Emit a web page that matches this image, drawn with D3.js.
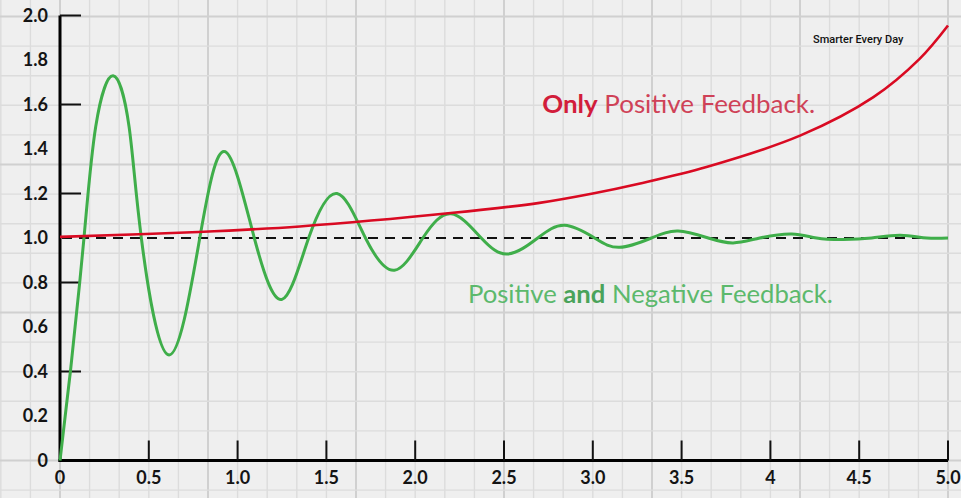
<!DOCTYPE html>
<html>
<head>
<meta charset="utf-8">
<script src="https://cdn.jsdelivr.net/npm/d3@7"></script>
<style>
  html, body { margin: 0; padding: 0; background: #efefef; }
  svg { display: block; }
  .tick-label { font-family: Lato, "Open Sans", sans-serif; font-weight: 700; font-size: 18px; fill: #141414; }
</style>
</head>
<body>
<svg id="chart"></svg>
<script>
/********/
/* data */
/********/

const xLabelValues = [0, 0.5, 1, 1.5, 2, 2.5, 3, 3.5, 4, 4.5, 5];
const xLabels = ["0", "0.5", "1.0", "1.5", "2.0", "2.5", "3.0", "3.5", "4", "4.5", "5.0"];
const xTickValues = [0.5, 1, 1.5, 2, 2.5, 3, 3.5, 4, 4.5, 5];

const yLabelValues = [0, 0.2, 0.4, 0.6, 0.8, 1, 1.2, 1.4, 1.6, 1.8, 2];
const yLabels = ["0", "0.2", "0.4", "0.6", "0.8", "1.0", "1.2", "1.4", "1.6", "1.8", "2.0"];
const yTickValues = [0.4, 0.8, 1.2, 1.6, 2];

const setpoint = 1.0;

// only positive feedback (red)
const positiveX = [0, 0.78, 1.35, 2.2, 2.7, 3.0, 3.26, 3.64, 4.17, 4.58, 4.84, 5];
const positiveY = [1.005, 1.027, 1.052, 1.112, 1.158, 1.2, 1.244, 1.319, 1.461, 1.633, 1.805, 1.955];

// positive and negative feedback (green)
const mixedX = [0, 0.06, 0.135, 0.201, 0.299, 0.389, 0.458, 0.614, 0.787, 0.93, 1.094,
  1.25, 1.40, 1.56, 1.72, 1.883, 2.043, 2.202, 2.372, 2.522, 2.69, 2.841, 3.01, 3.151, 3.33, 3.48, 3.65,
  3.79, 3.94, 4.12, 4.26, 4.41, 4.57, 4.73, 4.88, 5];
const mixedY = [0, 0.41, 1.0, 1.5, 1.729, 1.5, 1.0, 0.474, 1.0, 1.388, 1.0,
  0.724, 1.0, 1.20, 1.0, 0.855, 1.0, 1.109, 1.0, 0.928, 1.0, 1.057, 1.0, 0.958, 1.0, 1.031, 1.0,
  0.978, 1.0, 1.018, 1.0, 0.993, 1.0, 1.012, 1.0, 1.0];

/*********/
/* setup */
/*********/

const width = 961;
const height = 498;

const x = d3.scaleLinear().domain([0, 5]).range([60, 948]);
const y = d3.scaleLinear().domain([0, 2]).range([460.5, 15.5]);

const svg = d3.select("#chart").attr("width", width).attr("height", height);

/********/
/* grid */
/********/

function gridView() {
  const g = svg.append("g");
  g.append("rect").attr("width", width).attr("height", height).attr("fill", "#efefef");

  // graph paper: square cells, 1/6 unit wide, thicker every 5 cells
  const xStep = 1 / 6;
  const yStep = (x(xStep) - x(0)) / (y(0) - y(1));
  const cols = d3.range(-2, 33).map(i => ({ v: i * xStep, major: i % 5 === 0 }));
  const rows = d3.range(-1, 17).map(i => ({ v: i * yStep, major: i % 5 === 0 }));

  g.selectAll(".col")
    .data(cols)
    .enter()
    .append("line")
    .attr("x1", d => x(d.v))
    .attr("x2", d => x(d.v))
    .attr("y1", 0)
    .attr("y2", height)
    .attr("stroke", d => (d.major ? "#d0d0d0" : "#dcdcdc"))
    .attr("stroke-width", d => (d.major ? 2 : 1.4));

  g.selectAll(".row")
    .data(rows)
    .enter()
    .append("line")
    .attr("y1", d => y(d.v))
    .attr("y2", d => y(d.v))
    .attr("x1", 0)
    .attr("x2", width)
    .attr("stroke", d => (d.major ? "#d0d0d0" : "#dcdcdc"))
    .attr("stroke-width", d => (d.major ? 2 : 1.4));
}

/********/
/* axes */
/********/

function axesView() {
  const g = svg.append("g");

  g.append("line")
    .attr("x1", x(0)).attr("x2", x(0))
    .attr("y1", y(0) + 1.5).attr("y2", y(2))
    .attr("stroke", "#000").attr("stroke-width", 3);
  g.append("line")
    .attr("x1", x(0) - 1.5).attr("x2", x(5))
    .attr("y1", y(0)).attr("y2", y(0))
    .attr("stroke", "#000").attr("stroke-width", 3);

  g.selectAll(".ytick")
    .data(yTickValues)
    .enter()
    .append("line")
    .attr("x1", x(0))
    .attr("x2", x(0) + 21)
    .attr("y1", d => y(d))
    .attr("y2", d => y(d))
    .attr("stroke", "#111")
    .attr("stroke-width", 2);

  g.selectAll(".xtick")
    .data(xTickValues)
    .enter()
    .append("line")
    .attr("x1", d => x(d))
    .attr("x2", d => x(d))
    .attr("y1", y(0))
    .attr("y2", y(0) - 20)
    .attr("stroke", "#111")
    .attr("stroke-width", 2);

  g.selectAll(".ylabel")
    .data(yLabelValues)
    .enter()
    .append("text")
    .attr("class", "tick-label")
    .attr("x", x(0) - 12)
    .attr("y", d => y(d))
    .attr("dy", "0.36em")
    .attr("text-anchor", "end")
    .text((d, i) => yLabels[i]);

  g.selectAll(".xlabel")
    .data(xLabelValues)
    .enter()
    .append("text")
    .attr("class", "tick-label")
    .attr("x", d => x(d))
    .attr("y", y(0) + 23)
    .attr("text-anchor", "middle")
    .text((d, i) => xLabels[i]);
}

/*********/
/* lines */
/*********/

function linesView() {
  const g = svg.append("g");
  const line = d3.line().x(d => x(d[0])).y(d => y(d[1]));

  g.append("line")
    .attr("x1", x(0) + 2)
    .attr("x2", x(5))
    .attr("y1", y(setpoint))
    .attr("y2", y(setpoint))
    .attr("stroke", "#111")
    .attr("stroke-width", 2)
    .attr("stroke-dasharray", "10,7");

  g.append("path")
    .datum(d3.zip(mixedX, mixedY))
    .attr("d", line.curve(d3.curveNatural))
    .attr("fill", "none")
    .attr("stroke", "#3fae4a")
    .attr("stroke-width", 3);

  g.append("path")
    .datum(d3.zip(positiveX, positiveY))
    .attr("d", line.curve(d3.curveCatmullRom.alpha(0.5)))
    .attr("fill", "none")
    .attr("stroke", "#d90a22")
    .attr("stroke-width", 2.6);
}

/**********/
/* labels */
/**********/

function labelsView() {
  const g = svg.append("g").style("font-family", "Lato, 'Open Sans', sans-serif");

  // widths pinned to the reference lettering
  const red = g.append("text")
    .attr("x", x(2.715))
    .attr("y", y(1.562))
    .attr("font-size", 24.5)
    .attr("textLength", 273)
    .attr("lengthAdjust", "spacingAndGlyphs");
  red.append("tspan").attr("font-weight", 700).attr("fill", "#d21d3b").text("Only");
  red.append("tspan").attr("fill", "#cf4257").text(" Positive Feedback.");

  const green = g.append("text")
    .attr("x", x(2.297))
    .attr("y", y(0.708))
    .attr("font-size", 25)
    .attr("textLength", 365)
    .attr("lengthAdjust", "spacingAndGlyphs");
  green.append("tspan").attr("fill", "#5cb96c").text("Positive ");
  green.append("tspan").attr("font-weight", 700).attr("fill", "#4aa35a").text("and");
  green.append("tspan").attr("fill", "#5cb96c").text(" Negative Feedback.");

  g.append("text")
    .attr("x", x(4.24))
    .attr("y", y(1.876))
    .attr("font-family", "Roboto, sans-serif")
    .attr("font-weight", 500)
    .attr("font-size", 11)
    .attr("fill", "#111")
    .text("Smarter Every Day");
}

gridView();
axesView();
linesView();
labelsView();
</script>
</body>
</html>
